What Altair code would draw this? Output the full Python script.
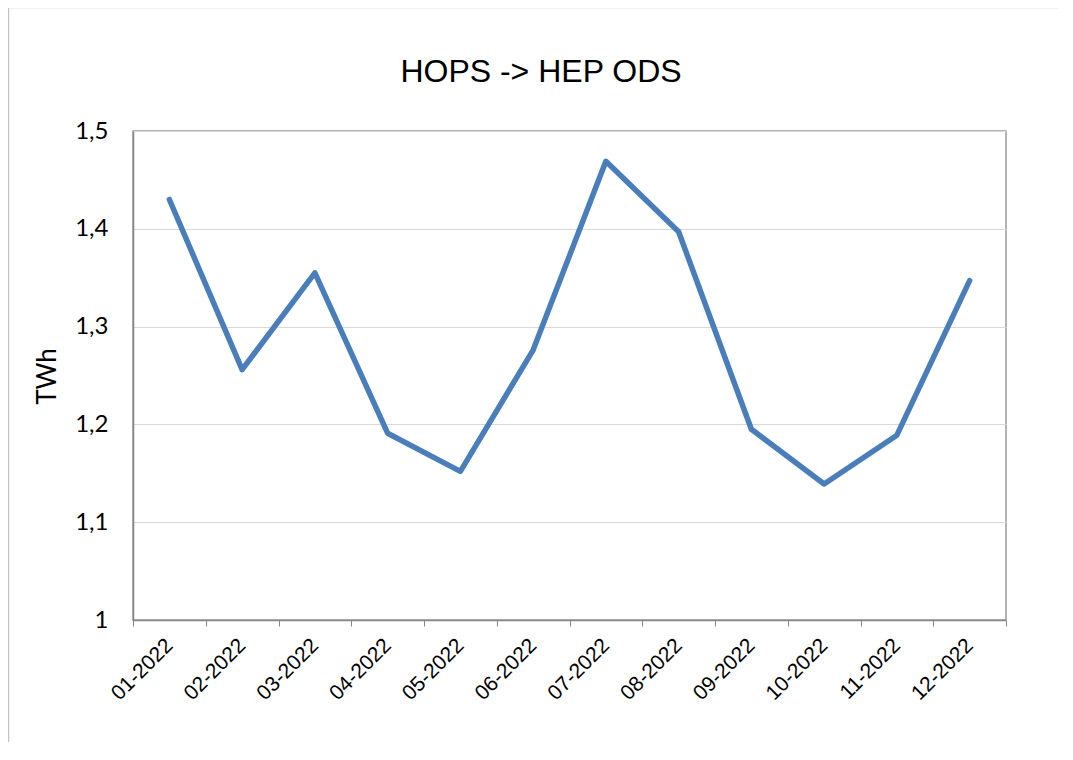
import altair as alt
import pandas as pd

months = ["01-2022", "02-2022", "03-2022", "04-2022", "05-2022", "06-2022",
          "07-2022", "08-2022", "09-2022", "10-2022", "11-2022", "12-2022"]
values = [1.430, 1.256, 1.355, 1.191, 1.152, 1.276,
          1.469, 1.397, 1.195, 1.139, 1.189, 1.347]
y_ticks = [1.0, 1.1, 1.2, 1.3, 1.4, 1.5]
title_text = ["HOPS -> HEP ODS"]

df = pd.DataFrame({"month": months, "value": values})
one = pd.DataFrame({"k": [0]})
title_df = pd.DataFrame({"t": title_text})

border_left = alt.Chart(one).mark_rule(stroke="#c4c4c4", strokeWidth=1.5).encode(
    x=alt.value(-124.5), y=alt.value(-123.5), y2=alt.value(900)
)
border_top = alt.Chart(one).mark_rule(stroke="#c4c4c4", strokeWidth=1.5).encode(
    x=alt.value(-124.5), x2=alt.value(1300), y=alt.value(-123.5)
)

title = alt.Chart(title_df).mark_text(
    font="Liberation Sans", fontSize=32, color="black",
    align="center", baseline="alphabetic"
).encode(x=alt.value(408), y=alt.value(-49), text="t:N")

line = alt.Chart(df).mark_line(
    color="#4a7ebb", strokeWidth=5.5, strokeJoin="round", strokeCap="round"
).encode(
    x=alt.X("month:N", sort=months, bandPosition=0.5,
            scale=alt.Scale(type="band", paddingInner=0, paddingOuter=0),
            axis=alt.Axis(title=None, labelAngle=-45, labelAlign="right",
                          labelBaseline="middle", labelFont="Liberation Sans",
                          labelFontSize=21, labelColor="black", labelPadding=16,
                          tickBand="extent", ticks=True, tickSize=6,
                          tickColor="#868686", domainColor="#868686",
                          domainWidth=1.5, grid=False)),
    y=alt.Y("value:Q", scale=alt.Scale(domain=[1.0, 1.5], nice=False, zero=False),
            axis=alt.Axis(title="TWh", values=y_ticks,
                          labelExpr="replace(format(datum.value, '.1~f'), '.', ',')",
                          labelFont="Lato", labelFontSize=24, labelColor="black",
                          labelPadding=25, ticks=False, domainColor="#868686",
                          domainWidth=1.5, gridColor="#d9d9d9", gridWidth=1.2,
                          titleFont="Lato", titleFontSize=26, titleFontWeight="normal",
                          titleColor="black", titleX=-86, titleY=245,
                          titleAngle=-90, titleAlign="center", titleBaseline="middle")),
)

chart = alt.layer(border_left, border_top, line, title).properties(
    width=873, height=489,
    autosize=alt.AutoSizeParams(type="none"),
    padding={"left": 125, "top": 123, "right": 52, "bottom": 122},
    background="white",
).configure_view(stroke="#9a9a9a", strokeWidth=1.5)

chart.save("out.html", embed_options={"renderer": "svg", "actions": False})
